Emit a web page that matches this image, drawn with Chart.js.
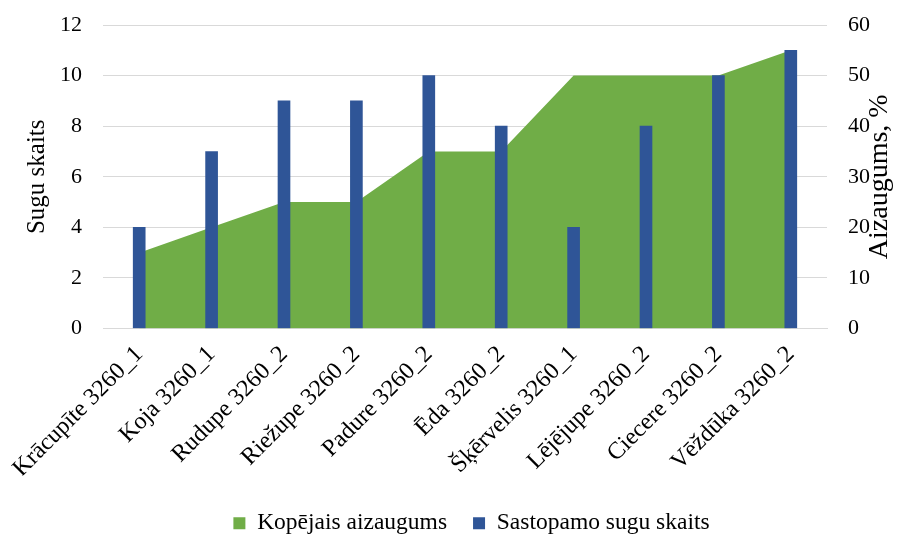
<!DOCTYPE html>
<html>
<head>
<meta charset="utf-8">
<script src="https://cdn.jsdelivr.net/npm/chart.js@4"></script>
<style>
html,body{margin:0;padding:0;background:#fff;}
#wrap{width:911px;height:535px;}
</style>
</head>
<body>
<div id="wrap"><canvas id="c" width="911" height="535"></canvas></div>
<script>
const categories = ["Krācupīte 3260_1","Koja 3260_1","Rudupe 3260_2","Riežupe 3260_2","Padure 3260_2","Ēda 3260_2","Šķērvelis 3260_1","Lējējupe 3260_2","Ciecere 3260_2","Vēždūka 3260_2"];
const overgrowthPct = [15,20,25,25,35,35,50,50,50,55];
const speciesCount = [4,7,9,9,10,8,4,8,10,11];
const leftTicks = [0,2,4,6,8,10,12];
const rightTicks = [0,10,20,30,40,50,60];
const rightTitle = 'Aizaugums, %';

const FONT = "'Liberation Serif','Times New Roman',serif";
Chart.defaults.font.family = FONT;
Chart.defaults.color = '#000';

const rightTitlePlugin = {
  id: 'rightTitle',
  afterLayout(chart) {
    chart.legend.left += 16;
    chart.legend.right += 16;
    chart.legend.top += 10;
    chart.legend.bottom += 10;
  },
  afterDraw(chart) {
    const ctx = chart.ctx;
    const a = chart.chartArea;
    ctx.save();
    ctx.translate(880, (a.top + a.bottom) / 2);
    ctx.rotate(-Math.PI / 2);
    ctx.font = "28px " + FONT;
    ctx.fillStyle = '#000';
    ctx.textAlign = 'center';
    ctx.textBaseline = 'middle';
    ctx.fillText(rightTitle, 0, 0);
    ctx.restore();
  }
};

const noVPad = (s) => { s.paddingTop = 0; s.paddingBottom = 0; };

new Chart(document.getElementById('c'), {
  type: 'bar',
  data: {
    labels: categories,
    datasets: [
      {
        type: 'line',
        label: 'Kopējais aizaugums',
        data: overgrowthPct,
        yAxisID: 'y1',
        backgroundColor: '#70AD47',
        borderColor: '#70AD47',
        borderWidth: 0,
        pointRadius: 0,
        fill: 'origin',
        tension: 0,
        order: 2
      },
      {
        type: 'bar',
        label: 'Sastopamo sugu skaits',
        data: speciesCount,
        yAxisID: 'y',
        backgroundColor: '#2F5597',
        barThickness: 12,
        order: 1
      }
    ]
  },
  plugins: [rightTitlePlugin],
  options: {
    responsive: false,
    animation: false,
    devicePixelRatio: 1,
    layout: { padding: { left: 0, right: 0, top: 25, bottom: 0 } },
    plugins: {
      tooltip: { enabled: false },
      legend: {
        position: 'bottom',
        labels: {
          font: { size: 23.5, family: FONT },
          color: '#000',
          boxWidth: 12,
          boxHeight: 12,
          padding: 26,
          sort: (a, b) => a.datasetIndex - b.datasetIndex
        }
      }
    },
    scales: {
      x: {
        offset: true,
        grid: { display: false },
        border: { display: true, color: '#D9D9D9', width: 1 },
        afterFit: (s) => { s.height = 147; },
        ticks: {
          font: { size: 24, family: FONT },
          color: '#000',
          minRotation: 45,
          maxRotation: 45,
          autoSkip: false,
          padding: 4
        }
      },
      y: {
        position: 'left',
        min: 0, max: 12,
        afterBuildTicks: (s) => { s.ticks = leftTicks.map(v => ({ value: v })); },
        afterFit: (s) => { s.width = 103; noVPad(s); },
        grid: { color: '#D9D9D9', drawTicks: false },
        border: { display: false },
        ticks: { font: { size: 22, family: FONT }, color: '#000', padding: 21 },
        title: { display: true, text: 'Sugu skaits', font: { size: 25, family: FONT }, color: '#000', padding: { top: 22, bottom: 0 } }
      },
      y1: {
        position: 'right',
        min: 0, max: 60,
        afterBuildTicks: (s) => { s.ticks = rightTicks.map(v => ({ value: v })); },
        afterFit: (s) => { s.width = 84; noVPad(s); },
        grid: { display: false, drawTicks: false },
        border: { display: false },
        ticks: { font: { size: 22, family: FONT }, color: '#000', padding: 21 },
        title: { display: false }
      }
    }
  }
});
</script>
</body>
</html>
